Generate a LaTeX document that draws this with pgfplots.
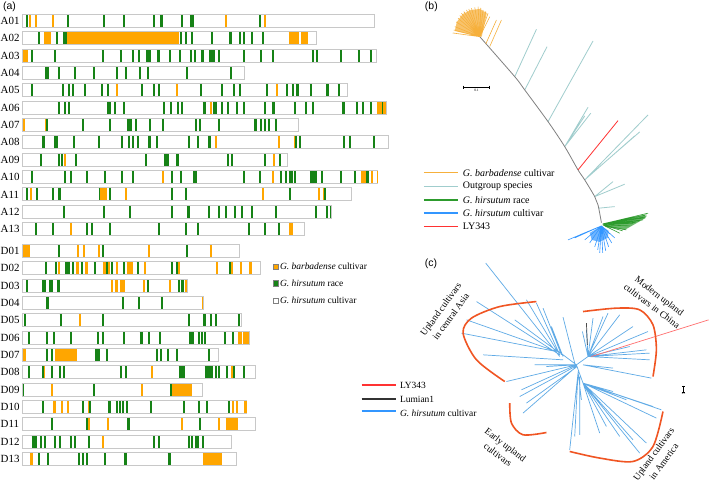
\documentclass[border=0pt]{standalone}
\usepackage{fontspec}
\setmainfont{Liberation Serif}
\newfontfamily\arial{Liberation Sans}
\usepackage{pgfplots}
\usepackage{pgfplotstable}
\pgfplotsset{compat=1.18}
\definecolor{og}{RGB}{255,166,0}
\definecolor{gr}{RGB}{22,130,22}
\definecolor{ol}{RGB}{200,200,200}
\definecolor{bo}{RGB}{246,176,60}
\definecolor{bt}{RGB}{160,205,205}
\definecolor{bg}{RGB}{45,155,45}
\definecolor{bb}{RGB}{50,150,255}
\definecolor{br}{RGB}{255,50,50}
\definecolor{cb}{RGB}{95,170,230}
\definecolor{ca}{RGB}{240,85,35}

\pgfplotstableread[row sep=\\]{y e\\
21 375\\ 38.3 316.7\\ 55.7 376.7\\ 73 244.3\\ 90.4 347.3\\ 107.7 386.7\\ 125.1 298.7\\ 142.4 388.3\\ 159.8 287.3\\ 177.2 378\\ 194.5 351.7\\ 211.9 331.7\\ 229.2 304.3\\
251 239.3\\ 268.3 260.7\\ 285.7 187.7\\ 303 203.7\\ 320.4 241.7\\ 337.8 250\\ 355.1 218.3\\ 372.5 255.7\\ 389.8 203\\ 407.2 247\\ 424.5 256\\ 441.9 231.3\\ 459.2 236.7\\
}\chrtab

\pgfplotstableread[row sep=\\]{x y w\\
26 21 2\\ 67 21 2\\ 103.5 21 2\\ 123 21 2\\ 153 21 2\\ 160 21 3.5\\ 181 21 2\\ 190 21 4\\ 259 21 2\\
38.3 38.3 2\\ 56 38.3 2\\ 63.3 38.3 3.4\\ 179.7 38.3 2\\ 184.7 38.3 2\\ 190.7 38.3 2\\ 211 38.3 2\\ 229.3 38.3 3\\ 239 38.3 2\\ 243.5 38.3 2\\ 251.5 38.3 2\\ 262.5 38.3 2\\
31.5 55.7 2\\ 54.5 55.7 2\\ 101.7 55.7 2\\ 119.7 55.7 2\\ 131.7 55.7 2\\ 138.3 55.7 2\\ 146 55.7 5\\ 156.7 55.7 3.3\\ 169 55.7 2\\ 179 55.7 2\\ 189.7 55.7 2\\ 194 55.7 2\\ 200.7 55.7 3.3\\ 209.3 55.7 5.7\\ 218 55.7 2\\ 243.3 55.7 2\\ 260 55.7 2\\ 271.7 55.7 2\\ 311.7 55.7 2\\ 315.7 55.7 2\\ 340 55.7 2\\ 357.7 55.7 2\\ 369.7 55.7 2\\
45.3 73 3.4\\ 57.7 73 2\\ 73.7 73 2\\ 92.7 73 2\\ 115.7 73 2\\ 124.7 73 2\\ 138.7 73 2\\ 147.3 73 2\\ 186.3 73 2\\ 230.3 73 2\\
31 90.4 2\\ 62.3 90.4 2\\ 68 90.4 2\\ 72 90.4 2\\ 84.3 90.4 2\\ 101.3 90.4 2\\ 106.7 90.4 2\\ 140.7 90.4 2\\ 152.7 90.4 2\\ 158 90.4 2\\ 200 90.4 2\\ 221.3 90.4 2\\ 233.3 90.4 2\\ 238.7 90.4 2\\ 265.7 90.4 2\\ 286.3 90.4 2\\ 291.7 90.4 2\\ 295.7 90.4 3.6\\ 309.7 90.4 2\\ 326 90.4 3.3\\ 337.7 90.4 2\\
57.7 107.7 2\\ 64.3 107.7 2\\ 68.3 107.7 2\\ 107.3 107.7 3.4\\ 114.3 107.7 2\\ 123 107.7 2\\ 163 107.7 2\\ 170.3 107.7 2\\ 177.3 107.7 2\\ 181.3 107.7 2\\ 202.7 107.7 3.3\\ 213.3 107.7 3.4\\ 221.3 107.7 2\\ 227.3 107.7 2\\ 236 107.7 2\\ 243.3 107.7 2\\ 264.3 107.7 2\\ 271.7 107.7 3.3\\ 293.7 107.7 2\\ 305 107.7 2\\ 312.3 107.7 2\\ 341.7 107.7 3.3\\ 355.7 107.7 2\\ 362.3 107.7 2\\ 370 107.7 2\\ 381.7 107.7 1.6\\
46.5 125.1 1.8\\ 82 125.1 2\\ 109 125.1 2\\ 126.7 125.1 5\\ 135 125.1 2\\ 149.3 125.1 2\\ 161.7 125.1 2\\ 195 125.1 2\\ 199 125.1 2\\ 218 125.1 2\\ 254 125.1 2.7\\ 259.7 125.1 2.3\\ 264 125.1 2\\ 267.7 125.1 2\\ 274.7 125.1 2\\
41.7 142.4 3.3\\ 54.3 142.4 3.4\\ 73.3 142.4 2\\ 98 142.4 2\\ 120.7 142.4 2\\ 128 142.4 2\\ 132.3 142.4 2\\ 136.7 142.4 2\\ 148.3 142.4 2.7\\ 156.3 142.4 2\\ 187.7 142.4 2.3\\ 197 142.4 2\\ 208 142.4 3\\ 295.3 142.4 1.7\\ 299 142.4 2\\ 343 142.4 2\\ 348.7 142.4 2\\ 373.3 142.4 2\\
40 159.8 2\\ 57.7 159.8 2\\ 61 159.8 2\\ 75.3 159.8 2\\ 145.3 159.8 2\\ 164 159.8 5\\ 176 159.8 3.3\\ 227 159.8 2\\ 230.7 159.8 2\\ 264.3 159.8 2\\ 279 159.8 2\\
31 177.2 2\\ 64.3 177.2 2\\ 70 177.2 2\\ 86 177.2 2\\ 103.7 177.2 2\\ 121 177.2 2\\ 131.7 177.2 2\\ 171 177.2 2\\ 179.7 177.2 2\\ 193.3 177.2 3.4\\ 243.3 177.2 2\\ 259 177.2 2\\ 279.7 177.2 2\\ 284.7 177.2 2\\ 288.7 177.2 4\\ 294 177.2 2\\ 310 177.2 6.7\\ 321 177.2 2.3\\ 340 177.2 2\\ 353.7 177.2 2\\ 366 177.2 3.3\\
26 194.5 2\\ 36.3 194.5 2\\ 52.3 194.5 2\\ 58.3 194.5 2.7\\ 98.7 194.5 1.3\\ 109 194.5 2\\ 171 194.5 2\\ 184.7 194.5 2\\ 288.7 194.5 2\\ 324 194.5 2\\
63 211.9 2\\ 103.3 211.9 2\\ 129.3 211.9 2\\ 171 211.9 2\\ 186.7 211.9 3.3\\ 208 211.9 2\\ 218 211.9 2\\ 225 211.9 2\\ 233.7 211.9 2\\ 241.3 211.9 2\\ 251.3 211.9 2\\ 274.7 211.9 2\\ 315 211.9 2\\ 325.7 211.9 2\\ 329.7 211.9 1.3\\
35 229.2 2\\ 52.3 229.2 2\\ 86.3 229.2 2\\ 91.3 229.2 2\\ 109.3 229.2 2\\ 158 229.2 2\\ 185 229.2 2\\ 197.3 229.2 2\\ 248.3 229.2 2\\ 264.3 229.2 2\\ 278 229.2 2\\
57.7 251 2\\ 101.7 251 2\\ 186.3 251 2\\
45.3 268.3 2\\ 55 268.3 2\\ 65.3 268.3 5\\ 72.3 268.3 2\\ 80.7 268.3 2.6\\ 93.7 268.3 2\\ 106 268.3 2\\ 111.3 268.3 2\\ 123 268.3 2\\ 136.7 268.3 2\\ 170.7 268.3 2\\ 176 268.3 2\\ 229 268.3 2\\
26.3 285.7 2\\ 42.3 285.7 3.4\\ 49.3 285.7 3.4\\ 56.7 285.7 3.3\\ 146.7 285.7 2\\ 178 285.7 2\\ 180.7 285.7 2\\ 182.7 285.7 1.6\\
46 303 3\\ 121.7 303 2\\ 138 303 2\\ 160.7 303 2\\
24.3 320.4 2\\ 59.7 320.4 2\\ 102.3 320.4 2\\ 188.3 320.4 2\\ 203.3 320.4 3\\ 209.7 320.4 2\\ 215 320.4 2\\ 237.7 320.4 2\\
28 337.8 2\\ 45.7 337.8 2\\ 53 337.8 2\\ 70.3 337.8 2\\ 96.7 337.8 2\\ 101.7 337.8 2\\ 123.3 337.8 2\\ 139.7 337.8 3\\ 148.3 337.8 2\\ 159 337.8 2\\ 189 337.8 4.7\\ 197.7 337.8 2\\ 200.7 337.8 2\\ 204 337.8 2\\ 223.7 337.8 2\\ 232.3 337.8 2\\
45.7 355.1 2\\ 50.7 355.1 2\\ 95.3 355.1 4.7\\ 105.7 355.1 2\\ 156.3 355.1 2\\ 160.3 355.1 2\\ 167.3 355.1 2\\ 176.3 355.1 2\\ 208 355.1 2\\
28 372.5 2\\ 42.3 372.5 1.4\\ 51 372.5 2\\ 58.7 372.5 2.6\\ 63.3 372.5 2\\ 119.7 372.5 2\\ 125 372.5 2\\ 178.7 372.5 6.3\\ 204.7 372.5 8.6\\ 215 372.5 2\\ 218.3 372.5 2\\ 225.7 372.5 2\\ 233.3 372.5 1.4\\ 243.3 372.5 2\\
22.7 389.8 1.6\\ 93.3 389.8 2\\ 170 389.8 1.7\\
42.3 407.2 2\\ 82.3 407.2 2\\ 89.5 407.2 1.8\\ 107.7 407.2 3\\ 115.7 407.2 2\\ 119 407.2 2\\ 122.3 407.2 2\\ 126.3 407.2 2\\ 149.7 407.2 2\\ 183 407.2 2\\ 197.7 407.2 2\\ 206.3 407.2 2\\ 227.7 407.2 2\\
50.7 424.5 2\\ 86.3 424.5 1.7\\ 127.3 424.5 3\\ 199 424.5 2\\
31.7 441.9 5\\ 40 441.9 2\\ 43.7 441.9 2\\ 54 441.9 2\\ 59 441.9 2\\ 69.7 441.9 2\\ 74 441.9 2\\ 87.7 441.9 2\\ 153 441.9 2\\ 158 441.9 2\\ 188 441.9 2\\ 191 441.9 2\\ 195 441.9 4.3\\ 202.3 441.9 2\\
38.3 459.2 2\\ 47.3 459.2 2\\ 78.3 459.2 2\\ 81.7 459.2 2\\ 86.3 459.2 2\\ 104 459.2 2\\ 124 459.2 2.7\\ 167.7 459.2 3\\
}\gtab

\pgfplotstableread[row sep=\\]{x y w\\
29.5 21 2\\ 35 21 2\\ 52.5 21 2\\ 225.5 21 2\\ 264.5 21 2\\
44 38.3 6.7\\ 66.7 38.3 112.6\\ 288.7 38.3 10.6\\ 301.3 38.3 6.7\\
23.4 55.7 4.6\\
115.7 90.4 2\\ 175.7 90.4 2\\ 276 90.4 2\\
209.7 107.7 2\\ 377.3 107.7 4.4\\ 383.3 107.7 2.7\\
23.4 125.1 2\\ 45 125.1 1.5\\
214.7 142.4 2\\ 278 142.4 2\\ 293.7 142.4 1.6\\
64.3 159.8 2\\ 273 159.8 2\\
162 177.2 2\\ 272.3 177.2 2\\ 361 177.2 4.7\\ 371 177.2 2\\ 377 177.2 1.5\\
30 194.5 2\\ 100 194.5 6.7\\ 124.7 194.5 2\\ 262 194.5 2\\ 318.3 194.5 2\\ 322.7 194.5 1.3\\
70 229.2 2\\ 289.3 229.2 3.4\\
23.4 251 6.6\\ 77.3 251 2\\ 82.7 251 2\\ 98.3 251 2\\ 148 251 2\\ 209.7 251 2\\
58 268.3 2\\ 75.7 268.3 3.6\\ 85.3 268.3 3\\ 102.7 268.3 3.3\\ 108.3 268.3 2\\ 115.7 268.3 2\\ 126.7 268.3 2\\ 129 268.3 2\\ 131.5 268.3 2\\ 144.3 268.3 2\\ 178 268.3 2\\ 216.3 268.3 2\\ 231.3 268.3 2\\ 239.7 268.3 2\\ 249.3 268.3 2.7\\
111 285.7 2.3\\ 115 285.7 3.3\\ 120 285.7 5\\ 143 285.7 2\\ 169 285.7 2\\ 185.3 285.7 1.7\\
202 303 1.5\\
79 320.4 2\\
238.3 337.8 3.4\\ 243.3 337.8 6\\
23.4 355.1 2.6\\ 55 355.1 22.3\\
43.7 372.5 1.6\\ 151.3 372.5 2\\ 231.3 372.5 1.4\\
50.7 389.8 2\\ 140.7 389.8 2\\ 171.7 389.8 20.3\\
53.3 407.2 2.7\\ 61.3 407.2 2\\ 67 407.2 2\\ 88 407.2 1.5\\ 231.7 407.2 2.3\\ 235.7 407.2 2\\ 244.3 407.2 2.4\\
88 424.5 2\\ 107.3 424.5 2\\ 181.3 424.5 2\\ 218.3 424.5 2\\ 225.7 424.5 12.3\\
102.3 441.9 2\\
30 459.2 3.3\\ 203.3 459.2 18.7\\
}\otab

\begin{document}
\begin{tikzpicture}
\begin{axis}[
  width=709bp, height=492bp, scale only axis,
  xmin=0, xmax=709, ymin=0, ymax=492, y dir=reverse,
  axis lines=none, ticks=none, clip=false,
  axis background/.style={fill=white},
  unbounded coords=jump,
]
% ---------- panel (a) ----------
\addplot[draw=ol, line width=14bp, quiver={u=\thisrow{e}+0.5-22.2, v=0}] table[x expr=22.2, y=y] {\chrtab};
\addplot[draw=white, line width=12bp, quiver={u=\thisrow{e}-0.5-23.2, v=0}] table[x expr=23.2, y=y] {\chrtab};
\addplot[draw=gr, line width=12bp, quiver={u=\thisrow{w}, v=0}] table[x=x, y=y] {\gtab};
\addplot[draw=og, line width=12bp, quiver={u=\thisrow{w}, v=0}] table[x=x, y=y] {\otab};

\begin{scope}[every node/.style={anchor=west, inner sep=0pt, font=\fontsize{11}{12}\selectfont}]
\node at (axis cs:0.5,21) {A01}; \node at (axis cs:0.5,38.3) {A02}; \node at (axis cs:0.5,55.7) {A03};
\node at (axis cs:0.5,73) {A04}; \node at (axis cs:0.5,90.4) {A05}; \node at (axis cs:0.5,107.7) {A06};
\node at (axis cs:0.5,125.1) {A07}; \node at (axis cs:0.5,142.4) {A08}; \node at (axis cs:0.5,159.8) {A09};
\node at (axis cs:0.5,177.2) {A10}; \node at (axis cs:0.5,194.5) {A11}; \node at (axis cs:0.5,211.9) {A12};
\node at (axis cs:0.5,229.2) {A13};
\node at (axis cs:0.5,251) {D01}; \node at (axis cs:0.5,268.3) {D02}; \node at (axis cs:0.5,285.7) {D03};
\node at (axis cs:0.5,303) {D04}; \node at (axis cs:0.5,320.4) {D05}; \node at (axis cs:0.5,337.8) {D06};
\node at (axis cs:0.5,355.1) {D07}; \node at (axis cs:0.5,372.5) {D08}; \node at (axis cs:0.5,389.8) {D09};
\node at (axis cs:0.5,407.2) {D10}; \node at (axis cs:0.5,424.5) {D11}; \node at (axis cs:0.5,441.9) {D12};
\node at (axis cs:0.5,459.2) {D13};
\end{scope}

% legend (a)
\addplot[only marks, mark=square*, mark size=2.6bp, mark options={fill=og, draw=gray}] coordinates {(276,266.7)};
\addplot[only marks, mark=square*, mark size=2.6bp, mark options={fill=gr, draw=gray}] coordinates {(276,283.3)};
\addplot[only marks, mark=square*, mark size=2.6bp, mark options={fill=white, draw=gray}] coordinates {(276,300.7)};
\begin{scope}[every node/.style={anchor=west, inner sep=0pt, font=\fontsize{9.5}{11}\selectfont}]
\node at (axis cs:280,266.7) {\textit{G. barbadense} cultivar};
\node at (axis cs:280,283.3) {\textit{G. hirsutum} race};
\node at (axis cs:280,300.7) {\textit{G. hirsutum} cultivar};
\end{scope}

% panel labels
\node[anchor=north west, inner sep=0pt, font=\arial\fontsize{10.5}{12}\selectfont] at (axis cs:3,2) {(a)};
\node[anchor=north west, inner sep=0pt, font=\arial\fontsize{10.5}{12}\selectfont] at (axis cs:425,2) {(b)};
\node[anchor=north west, inner sep=0pt, font=\arial\fontsize{10.5}{12}\selectfont] at (axis cs:425,259) {(c)};

% ---------- panel (b) ----------
\addplot[bt, line width=0.8bp] coordinates {
(515,76.7) (536.7,29.3) (nan,nan)
(525,90) (547.3,46.7) (nan,nan)
(548.3,121.7) (593.3,41) (nan,nan)
(565,146.7) (588.3,107.3) (nan,nan)
(565,146.7) (591,113.3) (nan,nan)
(566,145) (585,116) (nan,nan)
(585,180) (648.3,115) (nan,nan)
(585,180) (635,136) (nan,nan)
(587,178) (640,132) (nan,nan)
(595,196.7) (625,184.3) (nan,nan)
(595,196.7) (613.3,181.7) (nan,nan)
(599,208.3) (615,206.7)
};
\addplot[gray, line width=0.8bp, smooth] coordinates {
(480,36.7) (515,76.7) (525,90) (548.3,121.7) (565,146.7) (578.3,170) (585,180) (595,196.7) (598.3,205) (601.7,222.7)};
\addplot[br, line width=0.8bp] coordinates {(578.3,170) (618.3,120.7)};
\addplot[fill=bo, draw=none, fill opacity=0.75] coordinates {(480,36.7) (455,31) (457,22) (463,14) (471,10) (480,9) (487,13) (482,36.7)} -- cycle;
\addplot[bo, line width=0.6bp] coordinates {
(480,36.7) (453,33) (nan,nan) (480,36.7) (454,30) (nan,nan) (480,36.7) (455,26.7) (nan,nan)
(480,36.7) (456.5,22) (nan,nan) (480,36.7) (458.3,18.3) (nan,nan) (480,36.7) (460,15.5) (nan,nan)
(480,36.7) (461.7,13.3) (nan,nan) (480,36.7) (464,11.5) (nan,nan) (480,36.7) (466.7,10) (nan,nan)
(480,36.7) (469,9) (nan,nan) (480,36.7) (471.7,8.3) (nan,nan) (480,36.7) (475,7.5) (nan,nan)
(480,36.7) (478.3,6.7) (nan,nan) (480,36.7) (481,8) (nan,nan) (480,36.7) (483.3,10) (nan,nan)
(480,36.7) (486,11.5) (nan,nan) (480,36.7) (488.3,13.3) (nan,nan) (480,36.7) (490,16.7) (nan,nan)
(486,44) (496.7,20) (nan,nan) (490,46.5) (501.7,20)
};
\addplot[fill=bg, draw=none, fill opacity=0.7] coordinates {(603,224) (645,215) (646,218) (625,230) (606,227)} -- cycle;
\addplot[bg, line width=0.6bp] coordinates {
(603,224) (648.3,213.3) (nan,nan) (603,224) (647,215) (nan,nan) (603,224) (646.7,216.7) (nan,nan)
(603,224) (645,218) (nan,nan) (603,224) (643.3,220) (nan,nan) (603,224) (640,221) (nan,nan)
(603,224) (636,222.5) (nan,nan) (603,225) (633.3,223.3) (nan,nan) (603,225) (630,226) (nan,nan)
(603,225) (626.7,230) (nan,nan) (603,225) (623,231) (nan,nan) (603,225) (620,233.3)
};
\addplot[fill=bb, draw=none, fill opacity=0.7] coordinates {(601.7,226) (590,233) (592,240) (600,242) (608,238) (609,231)} -- cycle;
\addplot[bb, line width=0.6bp] coordinates {
(601.7,226) (568.3,240) (nan,nan) (601.7,226) (575,238) (nan,nan) (601.7,226) (580,235) (nan,nan)
(601.7,226) (585,240) (nan,nan) (601.7,226) (590,243) (nan,nan) (601.7,226) (595,247) (nan,nan)
(601.7,226) (598,250) (nan,nan) (601.7,226) (600,253) (nan,nan) (601.7,226) (603,253) (nan,nan)
(601.7,226) (606,251) (nan,nan) (601.7,226) (609,247) (nan,nan) (601.7,226) (612,243) (nan,nan)
(601.7,226) (615,238) (nan,nan) (601.7,226) (610,234)
};
\addplot[black, line width=0.6bp] coordinates {(463.3,87.3) (490,87.3) (nan,nan) (463.3,85.7) (463.3,88.9) (nan,nan) (490,85.7) (490,88.9)};
\node[font=\fontsize{3.5}{4}\selectfont, inner sep=0pt] at (axis cs:476.7,90.8) {0.1};
\addplot[bo, line width=1.4bp] coordinates {(424,172.7) (458.3,172.7)};
\addplot[bt, line width=1.4bp] coordinates {(424,186.7) (458.3,186.7)};
\addplot[bg, line width=1.4bp] coordinates {(424,200) (458.3,200)};
\addplot[bb, line width=1.4bp] coordinates {(424,213.3) (458.3,213.3)};
\addplot[br, line width=1.4bp] coordinates {(424,226.7) (458.3,226.7)};
\begin{scope}[every node/.style={anchor=west, inner sep=0pt, font=\fontsize{10}{11}\selectfont}]
\node at (axis cs:463,172.7) {\textit{G. barbadense} cultivar};
\node at (axis cs:463,186.7) {Outgroup species};
\node at (axis cs:463,200) {\textit{G. hirsutum} race};
\node at (axis cs:463,213.3) {\textit{G. hirsutum} cultivar};
\node at (axis cs:463,226.7) {LY343};
\end{scope}

% ---------- panel (c) ----------
\addplot[cb, line width=0.7bp] coordinates {
(486,263.3) (560,356.7) (nan,nan)
(476.7,301.7) (560,355) (nan,nan)
(461.7,333.3) (556.7,351.7) (nan,nan)
(466.7,320) (556.7,351.7) (nan,nan)
(483.3,355) (563.3,360) (nan,nan)
(515,320) (560,353.3) (nan,nan)
(526.7,300) (556.7,350) (nan,nan)
(536.7,303.3) (560,355) (nan,nan)
(543.3,308.3) (561.7,355) (nan,nan)
(551.7,326.7) (563.3,356.7) (nan,nan)
(556.7,350) (576.7,365) (nan,nan)
(563.3,317.3) (575,363.3) (nan,nan)
(506.7,381.7) (576.7,365) (nan,nan)
(521.7,390) (576.7,365) (nan,nan)
(523.3,413.3) (576.7,366.7) (nan,nan)
(526.7,403.3) (576.7,367.3) (nan,nan)
(535,365) (576.7,365) (nan,nan)
(546.7,366.7) (576.7,365) (nan,nan)
(520,396.7) (576.7,366) (nan,nan)
(570,450) (578.3,373.3) (nan,nan)
(580,435) (580,376.7) (nan,nan)
(581.7,400) (578.3,371.7) (nan,nan)
(575,436.7) (578.3,373.3) (nan,nan)
(576.7,365) (583.3,383.3) (nan,nan)
(583.3,383.3) (640,453.3) (nan,nan)
(583.3,383.3) (646.7,443.3) (nan,nan)
(583.3,383.3) (661.7,410) (nan,nan)
(583.3,383.3) (656.7,418.3) (nan,nan)
(583.3,383.3) (633.3,440) (nan,nan)
(583.3,383.3) (620,436.7) (nan,nan)
(583.3,383.3) (626.7,400) (nan,nan)
(583.3,383.3) (613.3,391.7) (nan,nan)
(583.3,383.3) (600,433.3) (nan,nan)
(583.3,383.3) (606.7,426.7) (nan,nan)
(583.3,383.3) (653.3,406.7) (nan,nan)
(576.7,365) (588.3,356.7) (nan,nan)
(588.3,356.7) (586.7,330) (nan,nan)
(588.3,356.7) (582.7,331.7) (nan,nan)
(588.3,356.7) (593.3,318.3) (nan,nan)
(588.3,356.7) (603.3,316.7) (nan,nan)
(588.3,356.7) (608.3,313.3) (nan,nan)
(588.3,356.7) (620,315) (nan,nan)
(588.3,356.7) (633.3,326.7) (nan,nan)
(588.3,356.7) (648.3,331.7) (nan,nan)
(588.3,356.7) (646.7,350) (nan,nan)
(588.3,356.7) (650,353.3) (nan,nan)
(588.3,356.7) (650,360) (nan,nan)
(588.3,356.7) (630,346.7) (nan,nan)
(583.3,365) (613.3,368.3) (nan,nan)
(583.3,365) (651.7,378.3)
};
\addplot[black!70, line width=0.7bp] coordinates {(586.7,323.3) (587.7,345)};
\addplot[br!70!white, line width=0.7bp] coordinates {(591.7,356.7) (709,320)};
\addplot[ca, line width=1.6bp, smooth] coordinates {(536.7,301.7) (500,306.7) (471.7,318.3) (463.3,333.3) (476.7,360) (505,381.7)};
\addplot[ca, line width=1.6bp, smooth] coordinates {(583.3,311.7) (616.7,308.3) (640,310) (653.3,325) (656.7,350) (653.3,376.7)};
\addplot[ca, line width=1.6bp, smooth] coordinates {(510,403.3) (511.7,423.3) (523.3,435) (546.7,432.7)};
\addplot[ca, line width=1.6bp, smooth] coordinates {(570,451.7) (600,458.3) (633.3,461.7) (653.3,446.7) (663.3,411.7)};
\addplot[black, line width=0.6bp] coordinates {(684,386) (684,392) (nan,nan) (682.5,386) (685.5,386) (nan,nan) (682.5,392) (685.5,392)};
\node[font=\fontsize{3}{3}\selectfont, inner sep=0pt] at (axis cs:684,394) {0.1};
\begin{scope}[every node/.style={align=center, inner sep=0pt, font=\fontsize{9.5}{12.5}\selectfont}]
\node[rotate=54] at (axis cs:446,313) {Upland cultivars\\in central Asia};
\node[rotate=-37] at (axis cs:656,301) {Modern upland\\cultivars in China};
\node[rotate=-37] at (axis cs:502,450) {Early upland\\cultivars};
\node[rotate=54] at (axis cs:659,458) {Upland cultivars\\in America};
\end{scope}
\addplot[br, line width=1.4bp] coordinates {(361.7,385) (396,385)};
\addplot[black!80, line width=1.4bp] coordinates {(361.7,399) (396,399)};
\addplot[bb, line width=1.4bp] coordinates {(361.7,411.3) (396,411.3)};
\begin{scope}[every node/.style={anchor=west, inner sep=0pt, font=\fontsize{9.5}{11}\selectfont}]
\node at (axis cs:400,385.7) {LY343};
\node at (axis cs:400,399.5) {Lumian1};
\node at (axis cs:400,413) {\textit{G. hirsutum} cultivar};
\end{scope}
\end{axis}
\end{tikzpicture}
\end{document}
